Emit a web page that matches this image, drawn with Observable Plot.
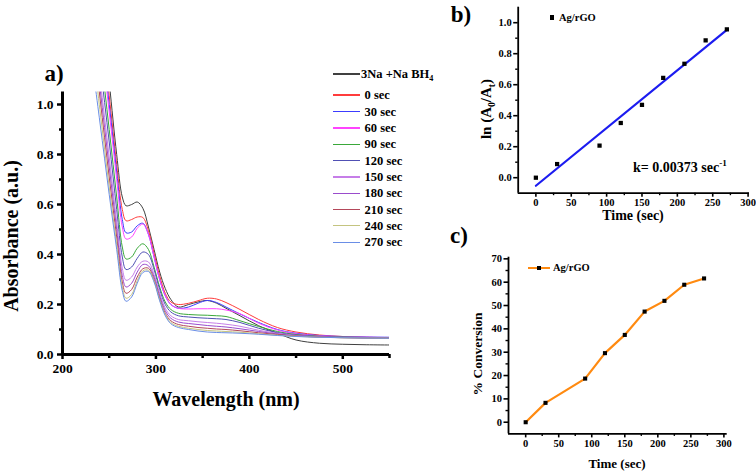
<!DOCTYPE html>
<html><head><meta charset="utf-8">
<script src="https://cdn.jsdelivr.net/npm/d3@7"></script>
<script src="https://cdn.jsdelivr.net/npm/@observablehq/plot@0.6"></script>
<style>
body{margin:0;background:#fff;}
#fig{position:relative;width:756px;height:471px;font-family:"Liberation Serif","Times New Roman",serif;font-weight:bold;color:#000;overflow:hidden;background:#fff}
#fig svg{position:absolute;left:0;top:0}
#fig svg text{font-weight:bold;font-family:"Liberation Serif","Times New Roman",serif;fill:#000}
.t{position:absolute;white-space:nowrap;line-height:1}
.rot{transform:translate(-50%,-50%) rotate(-90deg)}
.ctr{transform:translate(-50%,-50%)}
.lft{transform:translate(0,-50%)}
sub,sup{font-size:65%;line-height:0}
</style></head><body><div id="fig"></div>
<script>
// ---------- Panel a: UV-vis spectra ----------
const wavelength = [230, 240, 250, 258, 264, 268, 274, 280, 286, 292, 298, 304, 310, 316, 324, 335, 345, 355, 365, 375, 390, 410, 430, 450, 475, 500, 525, 550];
const specRef  = [1.80, 1.45, 1.09, 0.80, 0.630, 0.595, 0.600, 0.610, 0.585, 0.510, 0.420, 0.330, 0.264, 0.220, 0.190, 0.200, 0.210, 0.216, 0.205, 0.185, 0.155, 0.115, 0.085, 0.058, 0.045, 0.041, 0.039, 0.038];
const spec0    = [1.70, 1.37, 1.035, 0.76, 0.580, 0.535, 0.540, 0.550, 0.548, 0.495, 0.405, 0.315, 0.245, 0.210, 0.200, 0.205, 0.215, 0.225, 0.222, 0.208, 0.180, 0.140, 0.108, 0.090, 0.078, 0.072, 0.069, 0.067];
const spec30   = [1.62, 1.32, 1.00, 0.73, 0.540, 0.487, 0.490, 0.515, 0.525, 0.480, 0.390, 0.300, 0.235, 0.200, 0.185, 0.190, 0.205, 0.216, 0.208, 0.190, 0.162, 0.128, 0.100, 0.085, 0.076, 0.072, 0.070, 0.069];
const spec60   = [1.60, 1.29, 0.97, 0.70, 0.510, 0.462, 0.470, 0.505, 0.522, 0.480, 0.390, 0.300, 0.235, 0.200, 0.185, 0.182, 0.183, 0.183, 0.183, 0.178, 0.163, 0.125, 0.098, 0.083, 0.075, 0.071, 0.069, 0.068];
const spec90   = [1.55, 1.23, 0.90, 0.63, 0.430, 0.382, 0.390, 0.425, 0.443, 0.420, 0.350, 0.270, 0.210, 0.180, 0.165, 0.160, 0.158, 0.157, 0.155, 0.152, 0.135, 0.112, 0.092, 0.080, 0.073, 0.070, 0.068, 0.067];
const spec120  = [1.50, 1.17, 0.85, 0.58, 0.390, 0.340, 0.350, 0.385, 0.410, 0.400, 0.340, 0.260, 0.200, 0.170, 0.155, 0.150, 0.147, 0.145, 0.143, 0.140, 0.128, 0.105, 0.088, 0.078, 0.072, 0.069, 0.067, 0.066];
const spec150  = [1.45, 1.11, 0.79, 0.53, 0.345, 0.297, 0.310, 0.350, 0.373, 0.370, 0.320, 0.245, 0.185, 0.155, 0.140, 0.135, 0.131, 0.128, 0.125, 0.121, 0.113, 0.097, 0.085, 0.076, 0.071, 0.068, 0.067, 0.066];
const spec180  = [1.40, 1.07, 0.75, 0.50, 0.315, 0.270, 0.285, 0.330, 0.360, 0.355, 0.310, 0.235, 0.175, 0.145, 0.130, 0.124, 0.120, 0.116, 0.113, 0.110, 0.103, 0.092, 0.082, 0.075, 0.070, 0.068, 0.066, 0.065];
const spec210  = [1.36, 1.03, 0.71, 0.47, 0.290, 0.245, 0.260, 0.310, 0.343, 0.345, 0.300, 0.225, 0.165, 0.135, 0.120, 0.113, 0.108, 0.105, 0.102, 0.100, 0.095, 0.087, 0.080, 0.074, 0.070, 0.067, 0.066, 0.065];
const spec240  = [1.30, 0.98, 0.67, 0.44, 0.270, 0.225, 0.240, 0.295, 0.335, 0.337, 0.295, 0.220, 0.160, 0.128, 0.113, 0.105, 0.100, 0.096, 0.094, 0.092, 0.089, 0.083, 0.077, 0.073, 0.069, 0.067, 0.066, 0.065];
const spec270  = [1.22, 0.93, 0.64, 0.42, 0.255, 0.213, 0.230, 0.285, 0.328, 0.332, 0.290, 0.215, 0.155, 0.123, 0.108, 0.100, 0.094, 0.090, 0.088, 0.087, 0.085, 0.081, 0.076, 0.072, 0.069, 0.067, 0.066, 0.065];
const spectra = [specRef, spec0, spec30, spec60, spec90, spec120, spec150, spec180, spec210, spec240, spec270];
const seriesLabels = ["3Na +Na BH<sub>4</sub>", "0 sec", "30 sec", "60 sec", "90 sec", "120 sec", "150 sec", "180 sec", "210 sec", "240 sec", "270 sec"];
const seriesColors = ["#404040", "#ff3c3c", "#3c3cff", "#ff44ff", "#3aa83a", "#5050b4", "#c67ee8", "#9a4ccc", "#b4485a", "#c4c480", "#6a8ee6"];

// ---------- Panels b and c: kinetics ----------
const times = [0, 30, 90, 120, 150, 180, 210, 240, 270];
const lnRatio = [0.0, 0.088, 0.207, 0.353, 0.470, 0.644, 0.735, 0.886, 0.957];
const conversion = [0, 8.3, 18.7, 29.6, 37.4, 47.4, 52.0, 58.9, 61.6];

// tick values
const aTicksX = [200, 300, 400, 500], aMinorX = [250, 350, 450, 550];
const aTicksY = [0, 0.2, 0.4, 0.6, 0.8, 1.0], aMinorY = [0.1, 0.3, 0.5, 0.7, 0.9];
const bTicksX = [0, 50, 100, 150, 200, 250, 300], bMinorX = [25, 75, 125, 175, 225, 275];
const bTicksY = [0, 0.2, 0.4, 0.6, 0.8, 1.0], bMinorY = [0.1, 0.3, 0.5, 0.7, 0.9];
const cTicksY = [0, 10, 20, 30, 40, 50, 60, 70], cMinorY = [5, 15, 25, 35, 45, 55, 65];

const W = 756, H = 471;
const FONT = "'Liberation Serif','Times New Roman',serif";
const baseStyle = {fontFamily: FONT, fontWeight: "bold", color: "black", background: "transparent", overflow: "visible"};
const noLab = () => "";

const fig = document.getElementById("fig");

// Panel a frame: x 62..389, y 91.5..354
const plotA = Plot.plot({
  width: W, height: H,
  marginLeft: 62, marginRight: W - 389, marginTop: 91.5, marginBottom: H - 354,
  x: {domain: [200, 550]},
  y: {domain: [0, 1.05]},
  style: {...baseStyle, fontSize: "13.5px"},
  marks: [
    ...spectra.map((s, i) => Plot.line(wavelength.map((w, j) => ({w, a: s[j]})),
      {x: "w", y: "a", stroke: seriesColors[i], strokeWidth: 1, curve: "catmull-rom", clip: true})),
    Plot.ruleX([200], {strokeWidth: 3}),
    Plot.ruleY([0], {strokeWidth: 3}),
    Plot.axisX({ticks: aTicksX, tickSize: 5, tickPadding: 4, strokeWidth: 2.5, label: null, tickFormat: d3.format("d"), fontSize: 13.5, fontWeight: "bold"}),
    Plot.axisX({ticks: aMinorX, tickSize: 4, strokeWidth: 2.5, label: null, tickFormat: noLab}),
    Plot.axisY({ticks: aTicksY, tickSize: 5, tickPadding: 4, strokeWidth: 2.5, label: null, tickFormat: d3.format(".1f"), fontSize: 13.5, fontWeight: "bold"}),
    Plot.axisY({ticks: aMinorY, tickSize: 3, strokeWidth: 2.5, label: null, tickFormat: noLab})
  ]
});

// Panel b frame: x 517.7..749, y 6.7..192.7
const bData = times.map((t, i) => ({t, v: lnRatio[i]}));
const plotB = Plot.plot({
  width: W, height: H,
  marginLeft: 517.7, marginRight: W - 749, marginTop: 6.7, marginBottom: H - 192.7,
  x: {domain: [-25, 302]},
  y: {domain: [-0.1, 1.1]},
  style: {...baseStyle, fontSize: "10.5px"},
  marks: [
    Plot.linearRegressionY(bData, {x: "t", y: "v", stroke: "#1c1cf0", strokeWidth: 2.2, ci: 0}),
    Plot.dot(bData, {x: "t", y: "v", symbol: "square", r: 2.4, fill: "black", stroke: "none"}),
    Plot.ruleX([-25], {strokeWidth: 1.8}),
    Plot.ruleY([-0.1], {strokeWidth: 1.8}),
    Plot.axisX({ticks: bTicksX, tickSize: 4, tickPadding: 1.5, strokeWidth: 1.6, label: null, tickFormat: d3.format("d"), fontSize: 10.5, fontWeight: "bold"}),
    Plot.axisX({ticks: bMinorX, tickSize: 2.5, strokeWidth: 1.4, label: null, tickFormat: noLab}),
    Plot.axisY({ticks: bTicksY, tickSize: 4.5, tickPadding: 2, strokeWidth: 1.6, label: null, tickFormat: d3.format(".1f"), fontSize: 10.5, fontWeight: "bold"}),
    Plot.axisY({ticks: bMinorY, tickSize: 2.5, strokeWidth: 1.4, label: null, tickFormat: noLab})
  ]
});

// Panel c frame: x 508..726.7, y 256.7..433.4
const cData = times.map((t, i) => ({t, v: conversion[i]}));
const plotC = Plot.plot({
  width: W, height: H,
  marginLeft: 508, marginRight: W - 726.7, marginTop: 256.7, marginBottom: H - 433.4,
  x: {domain: [-26, 305]},
  y: {domain: [-5, 70.7]},
  style: {...baseStyle, fontSize: "10.5px"},
  marks: [
    Plot.line(cData, {x: "t", y: "v", stroke: "#ff8a10", strokeWidth: 2.2}),
    Plot.dot(cData, {x: "t", y: "v", symbol: "square", r: 2.3, fill: "black", stroke: "none"}),
    Plot.ruleX([-26], {strokeWidth: 1.8}),
    Plot.ruleY([-5], {strokeWidth: 1.8}),
    Plot.axisX({ticks: bTicksX, tickSize: 4, tickPadding: 2, strokeWidth: 1.6, label: null, tickFormat: d3.format("d"), fontSize: 10.5, fontWeight: "bold"}),
    Plot.axisX({ticks: bMinorX, tickSize: 2.5, strokeWidth: 1.4, label: null, tickFormat: noLab}),
    Plot.axisY({ticks: cTicksY, tickSize: 4.5, tickPadding: 2, strokeWidth: 1.6, label: null, tickFormat: d3.format("d"), fontSize: 10.5, fontWeight: "bold"}),
    Plot.axisY({ticks: cMinorY, tickSize: 2.5, strokeWidth: 1.4, label: null, tickFormat: noLab})
  ]
});

fig.append(plotA, plotB, plotC);

function txt(html, x, y, size, cls) {
  const d = document.createElement("div");
  d.className = "t " + cls;
  d.style.left = x + "px"; d.style.top = y + "px"; d.style.fontSize = size + "px";
  d.innerHTML = html;
  fig.append(d);
  return d;
}
function box(x, y, w, h, color) {
  const d = document.createElement("div");
  d.style.cssText = `position:absolute;left:${x}px;top:${y}px;width:${w}px;height:${h}px;background:${color}`;
  fig.append(d);
}

// panel letters
txt("a)", 54, 73, 23, "ctr");
txt("b)", 461, 14, 23, "ctr");
txt("c)", 459, 235, 23, "ctr");

// axis titles
txt("Absorbance (a.u.)", 11, 236, 20, "rot");
txt("Wavelength (nm)", 226, 399, 20, "ctr");
txt("ln (A<sub>0</sub>/A<sub>t</sub>)", 486, 109, 15, "rot");
txt("Time (sec)", 633, 216, 14, "ctr");
txt("% Conversion", 478, 354, 13.5, "rot");
txt("Time (sec)", 617, 463, 13, "ctr");

// panel a legend
const legY = [74, 95, 111.5, 128, 144.3, 160.7, 177, 193.3, 209.5, 225.8, 242.2];
seriesLabels.forEach((lab, i) => {
  box(333, legY[i] - 0.6, 27, 1.2, seriesColors[i]);
  txt(lab, i === 0 ? 361 : 364.5, legY[i], 12.5, "lft");
});

// panel b legend + rate constant
box(549.8, 15.3, 4.3, 4.3, "#000");
txt("Ag/rGO", 559, 17.5, 10.5, "lft");
txt("k= 0.00373 sec<sup>-1</sup>", 633, 168, 14, "lft");

// panel c legend
box(528, 266.6, 22, 2.2, "#ff8a10");
box(536.6, 265.6, 4.2, 4.2, "#000");
txt("Ag/rGO", 553, 267.7, 10.5, "lft");
</script></body></html>
